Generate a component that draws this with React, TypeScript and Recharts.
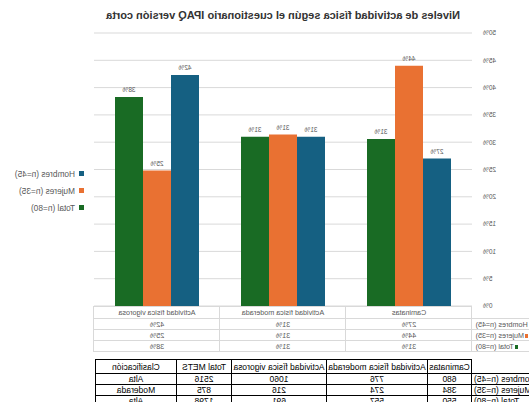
import React from "react";
import { BarChart, Bar, XAxis, YAxis, CartesianGrid, LabelList } from "recharts";

const categories = ["Caminatas", "Actividad física moderada", "Actividad física vigorosa"];
const series_names = ["Hombres (n=45)", "Mujeres (n=35)", "Total (n=80)"];
const hombres = [27.0, 31.0, 42.3];
const mujeres = [44.0, 31.4, 24.8];
const total = [30.6, 31.0, 38.3];
const y_ticks = [0, 5, 10, 15, 20, 25, 30, 35, 40, 45, 50];

const mets_columns = ["Caminatas", "Actividad física moderada", "Actividad física vigorosa", "Total METS", "Clasificación"];
const mets_hombres = ["680", "776", "1060", "2516", "Alta"];
const mets_mujeres = ["384", "274", "216", "875", "Moderada"];
const mets_total = ["550", "557", "691", "1798", "Alta"];
const mets_rows = [mets_hombres, mets_mujeres, mets_total];

const color = ["#156082", "#E97132", "#196B24"];
const keys = ["hombres", "mujeres", "total"];
const font = "'Liberation Sans', Arial, sans-serif";
const grey = "#595959";

const pct = (v: any) => `${Math.round(Number(v))}%`;

export default function App() {
  const data = categories.map((c, i) => ({
    name: c,
    hombres: hombres[i],
    mujeres: mujeres[i],
    total: total[i],
  }));
  const values = [hombres, mujeres, total];

  const cell_chart: React.CSSProperties = {
    border: "1px solid #d9d9d9",
    height: 10,
    padding: 0,
    textAlign: "center",
    whiteSpace: "nowrap",
    overflow: "hidden",
  };
  const cell_mets: React.CSSProperties = {
    border: "1px solid #000",
    padding: 0,
    textAlign: "center",
    whiteSpace: "nowrap",
    overflow: "hidden",
  };

  // the reference is a mirrored picture, so the whole chart is flipped
  return (
    <div
      style={{
        position: "absolute",
        left: 0,
        top: 0,
        width: 529,
        height: 402,
        overflow: "hidden",
        background: "#fff",
        transform: "scaleX(-1)",
        fontFamily: font,
      }}
    >
      <div
        style={{
          position: "absolute",
          top: 9,
          left: 56,
          width: 380,
          textAlign: "center",
          fontSize: 11,
          fontWeight: "bold",
          color: "#333",
          whiteSpace: "nowrap",
        }}
      >
        Niveles de actividad física según el cuestionario IPAQ versión corta
      </div>

      <div style={{ position: "absolute", left: 0, top: 0 }}>
        <BarChart
          width={529}
          height={310}
          data={data}
          margin={{ top: 33, right: 94, bottom: 4, left: 0 }}
          barGap={0}
        >
          <CartesianGrid vertical={false} stroke="#d9d9d9" />
          <XAxis dataKey="name" hide />
          <YAxis
            width={57}
            domain={[0, 50]}
            ticks={y_ticks}
            tickFormatter={(v) => `${v}%`}
            axisLine={false}
            tickLine={false}
            tickSize={0}
            tickMargin={11}
            tick={{ fontSize: 6.5, fill: grey, fontFamily: font }}
          />
          {keys.map((k, i) => (
            <Bar
              key={k}
              dataKey={k}
              name={series_names[i]}
              fill={color[i]}
              barSize={28}
              isAnimationActive={false}
            >
              <LabelList
                dataKey={k}
                position="top"
                offset={5}
                formatter={pct}
                style={{ fontSize: 6.5, fill: grey, fontFamily: font }}
              />
            </Bar>
          ))}
        </BarChart>
      </div>

      {/* legend */}
      <div style={{ position: "absolute", left: 445, top: 165, fontSize: 8.3, color: grey }}>
        {series_names.map((s, i) => (
          <div key={s} style={{ height: 17, display: "flex", alignItems: "center", whiteSpace: "nowrap" }}>
            <span style={{ width: 5, height: 5, background: color[i], marginRight: 4, display: "inline-block" }} />
            {s}
          </div>
        ))}
      </div>

      {/* chart data table */}
      <table
        style={{
          position: "absolute",
          left: -23,
          top: 306,
          borderCollapse: "collapse",
          tableLayout: "fixed",
          width: 80 + 3 * 126,
          fontSize: 7.2,
          color: grey,
        }}
      >
        <colgroup>
          <col style={{ width: 80 }} />
          <col style={{ width: 126 }} />
          <col style={{ width: 126 }} />
          <col style={{ width: 126 }} />
        </colgroup>
        <tbody>
          <tr>
            <td style={{ ...cell_chart, borderTop: "none", borderLeft: "none", borderBottom: "1px solid #d9d9d9" }} />
            {categories.map((c) => (
              <td key={c} style={{ ...cell_chart, height: 11 }}>{c}</td>
            ))}
          </tr>
          {series_names.map((s, i) => (
            <tr key={s}>
              <td style={{ ...cell_chart, textAlign: "right", borderLeft: "none", paddingRight: 3 }}>
                <span style={{ display: "inline-block", width: 3, height: 4, background: color[i], marginRight: 1 }} />
                {s}
              </td>
              {values[i].map((v, j) => (
                <td key={j} style={cell_chart}>{pct(v)}</td>
              ))}
            </tr>
          ))}
        </tbody>
      </table>

      {/* METS table */}
      <table
        style={{
          position: "absolute",
          left: -13,
          top: 359,
          borderCollapse: "collapse",
          tableLayout: "fixed",
          width: 70 + 44 + 101 + 95 + 55 + 81,
          fontSize: 8.5,
          color: "#000",
        }}
      >
        <colgroup>
          <col style={{ width: 70 }} />
          <col style={{ width: 44 }} />
          <col style={{ width: 101 }} />
          <col style={{ width: 95 }} />
          <col style={{ width: 55 }} />
          <col style={{ width: 81 }} />
        </colgroup>
        <tbody>
          <tr>
            <td style={{ ...cell_mets, border: "none", borderRight: "1px solid #000", height: 13 }} />
            {mets_columns.map((c) => (
              <td key={c} style={{ ...cell_mets, height: 13 }}>{c}</td>
            ))}
          </tr>
          {mets_rows.map((row, i) => (
            <tr key={i}>
              <td style={{ ...cell_mets, textAlign: "right", paddingRight: 2, height: 9 }}>{series_names[i]}</td>
              {row.map((v, j) => (
                <td key={j} style={{ ...cell_mets, height: 9 }}>{v}</td>
              ))}
            </tr>
          ))}
        </tbody>
      </table>
    </div>
  );
}
